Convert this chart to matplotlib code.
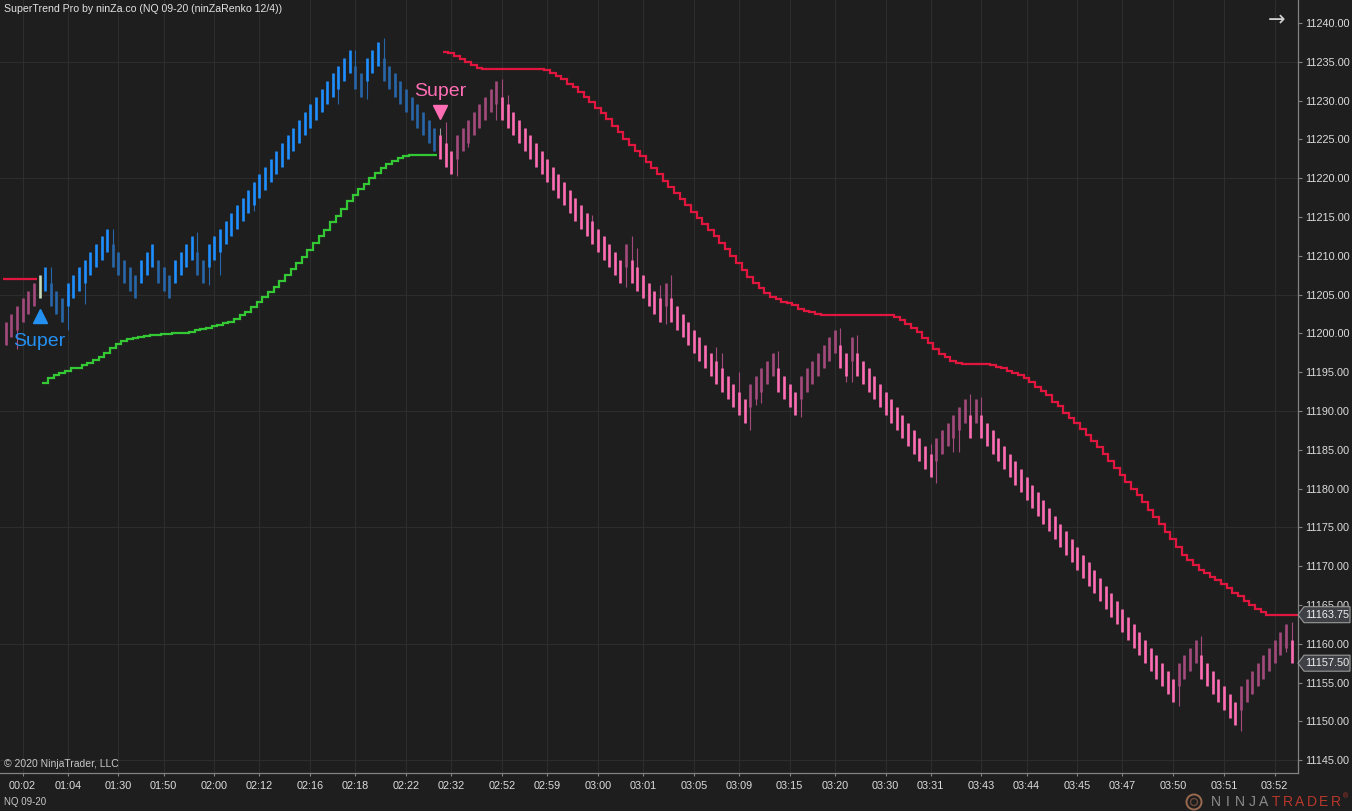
import matplotlib
matplotlib.use("Agg")
import matplotlib.pyplot as plt
import numpy as np
from matplotlib.patches import Polygon, Circle
from matplotlib.transforms import IdentityTransform, offset_copy

plt.rcParams["font.family"] = ["Liberation Sans", "DejaVu Sans"]

TITLE = "SuperTrend Pro by ninZa.co (NQ 09-20 (ninZaRenko 12/4))"

# renko bars (bar index = position on the x axis)
opens = [
    11198.5, 11199.5, 11200.5, 11201.5, 11202.5, 11203.5, 11204.5, 11205.5,
    11206.5, 11205.5, 11204.5,
    11203.5, 11204.5, 11205.5, 11206.5, 11207.5, 11208.5, 11209.5, 11210.5,
    11211.5, 11210.5, 11209.5, 11208.5, 11207.5,
    11206.5, 11207.5, 11208.5,
    11209.5, 11208.5, 11207.5,
    11206.5, 11207.5, 11208.5, 11209.5,
    11210.5, 11209.5,
    11208.5, 11209.5, 11210.5, 11211.5, 11212.5, 11213.5, 11214.5, 11215.5, 11216.5,
    11217.5, 11218.5, 11219.5, 11220.5, 11221.5, 11222.5, 11223.5, 11224.5, 11225.5,
    11226.5, 11227.5, 11228.5, 11229.5, 11230.5, 11231.5, 11232.5, 11233.5,
    11234.5, 11233.5,
    11232.5, 11233.5, 11234.5,
    11235.5, 11234.5, 11233.5, 11232.5, 11231.5, 11230.5, 11229.5, 11228.5, 11227.5,
    11226.5, 11225.5, 11224.5, 11223.5,
    11222.5, 11223.5, 11224.5, 11225.5, 11226.5, 11227.5, 11228.5, 11229.5,
    11230.5, 11229.5, 11228.5, 11227.5, 11226.5, 11225.5, 11224.5, 11223.5, 11222.5,
    11221.5, 11220.5, 11219.5, 11218.5, 11217.5, 11216.5, 11215.5, 11214.5, 11213.5,
    11212.5, 11211.5, 11210.5, 11209.5,
    11208.5,
    11209.5, 11208.5, 11207.5, 11206.5, 11205.5, 11204.5,
    11203.5,
    11204.5, 11203.5, 11202.5, 11201.5, 11200.5, 11199.5, 11198.5, 11197.5, 11196.5,
    11195.5, 11194.5, 11193.5, 11192.5, 11191.5,
    11190.5, 11191.5, 11192.5, 11193.5, 11194.5,
    11195.5, 11194.5, 11193.5, 11192.5,
    11191.5, 11192.5, 11193.5, 11194.5, 11195.5, 11196.5, 11197.5,
    11198.5, 11197.5,
    11196.5,
    11197.5, 11196.5, 11195.5, 11194.5, 11193.5, 11192.5, 11191.5, 11190.5, 11189.5,
    11188.5, 11187.5, 11186.5, 11185.5, 11184.5,
    11183.5, 11184.5, 11185.5, 11186.5, 11187.5, 11188.5,
    11189.5,
    11188.5,
    11189.5, 11188.5, 11187.5, 11186.5, 11185.5, 11184.5, 11183.5, 11182.5, 11181.5,
    11180.5, 11179.5, 11178.5, 11177.5, 11176.5, 11175.5, 11174.5, 11173.5, 11172.5,
    11171.5, 11170.5, 11169.5, 11168.5, 11167.5, 11166.5, 11165.5, 11164.5, 11163.5,
    11162.5, 11161.5, 11160.5, 11159.5, 11158.5, 11157.5, 11156.5, 11155.5,
    11154.5, 11155.5, 11156.5, 11157.5,
    11158.5, 11157.5, 11156.5, 11155.5, 11154.5, 11153.5, 11152.5,
    11151.5, 11152.5, 11153.5, 11154.5, 11155.5, 11156.5, 11157.5, 11158.5, 11159.5,
    11160.5,
]
closes = [
    11201.5, 11202.5, 11203.5, 11204.5, 11205.5, 11206.5, 11207.5, 11208.5,
    11203.5, 11202.5, 11201.5,
    11206.5, 11207.5, 11208.5, 11209.5, 11210.5, 11211.5, 11212.5, 11213.5,
    11208.5, 11207.5, 11206.5, 11205.5, 11204.5,
    11209.5, 11210.5, 11211.5,
    11206.5, 11205.5, 11204.5,
    11209.5, 11210.5, 11211.5, 11212.5,
    11207.5, 11206.5,
    11211.5, 11212.5, 11213.5, 11214.5, 11215.5, 11216.5, 11217.5, 11218.5, 11219.5,
    11220.5, 11221.5, 11222.5, 11223.5, 11224.5, 11225.5, 11226.5, 11227.5, 11228.5,
    11229.5, 11230.5, 11231.5, 11232.5, 11233.5, 11234.5, 11235.5, 11236.5,
    11231.5, 11230.5,
    11235.5, 11236.5, 11237.5,
    11232.5, 11231.5, 11230.5, 11229.5, 11228.5, 11227.5, 11226.5, 11225.5, 11224.5,
    11223.5, 11222.5, 11221.5, 11220.5,
    11225.5, 11226.5, 11227.5, 11228.5, 11229.5, 11230.5, 11231.5, 11232.5,
    11227.5, 11226.5, 11225.5, 11224.5, 11223.5, 11222.5, 11221.5, 11220.5, 11219.5,
    11218.5, 11217.5, 11216.5, 11215.5, 11214.5, 11213.5, 11212.5, 11211.5, 11210.5,
    11209.5, 11208.5, 11207.5, 11206.5,
    11211.5,
    11206.5, 11205.5, 11204.5, 11203.5, 11202.5, 11201.5,
    11206.5,
    11201.5, 11200.5, 11199.5, 11198.5, 11197.5, 11196.5, 11195.5, 11194.5, 11193.5,
    11192.5, 11191.5, 11190.5, 11189.5, 11188.5,
    11193.5, 11194.5, 11195.5, 11196.5, 11197.5,
    11192.5, 11191.5, 11190.5, 11189.5,
    11194.5, 11195.5, 11196.5, 11197.5, 11198.5, 11199.5, 11200.5,
    11195.5, 11194.5,
    11199.5,
    11194.5, 11193.5, 11192.5, 11191.5, 11190.5, 11189.5, 11188.5, 11187.5, 11186.5,
    11185.5, 11184.5, 11183.5, 11182.5, 11181.5,
    11186.5, 11187.5, 11188.5, 11189.5, 11190.5, 11191.5,
    11186.5,
    11191.5,
    11186.5, 11185.5, 11184.5, 11183.5, 11182.5, 11181.5, 11180.5, 11179.5, 11178.5,
    11177.5, 11176.5, 11175.5, 11174.5, 11173.5, 11172.5, 11171.5, 11170.5, 11169.5,
    11168.5, 11167.5, 11166.5, 11165.5, 11164.5, 11163.5, 11162.5, 11161.5, 11160.5,
    11159.5, 11158.5, 11157.5, 11156.5, 11155.5, 11154.5, 11153.5, 11152.5,
    11157.5, 11158.5, 11159.5, 11160.5,
    11155.5, 11154.5, 11153.5, 11152.5, 11151.5, 11150.5, 11149.5,
    11154.5, 11155.5, 11156.5, 11157.5, 11158.5, 11159.5, 11160.5, 11161.5, 11162.5,
    11157.5,
]

# wick extremes that reach past the body
wick_bars = [2, 8, 11, 14, 19, 34, 36, 38, 44, 59, 62, 64, 67, 77, 78, 80, 82, 87,
             88, 89, 104, 110, 111, 112, 116, 117, 118, 126, 127, 130, 132, 133,
             134, 137, 141, 148, 149, 150, 151, 164, 165, 168, 169, 171, 173, 208,
             212, 219, 227, 228]
wick_ends = [11198.0, 11208.5, 11200.5, 11203.75, 11213.5, 11213.0, 11206.25,
             11207.5, 11215.75, 11229.5, 11236.5, 11230.25, 11238.0, 11226.5,
             11227.25, 11220.25, 11224.0, 11227.5, 11232.75, 11230.75, 11215.25,
             11206.0, 11212.5, 11211.0, 11206.25, 11201.25, 11207.5, 11198.25,
             11197.5, 11195.0, 11187.5, 11190.75, 11191.0, 11197.75, 11189.25,
             11200.75, 11193.75, 11193.75, 11199.75, 11185.75, 11180.75, 11184.75,
             11184.75, 11192.25, 11191.75, 11152.0, 11161.0, 11148.75, 11159.0,
             11162.75]

signal_up_bar = 6
signal_dn_bar = 77

# SuperTrend stop line
st_red_pre = [11207.0, 11207.0, 11207.0, 11207.0, 11207.0, 11207.0]  # bars 0-5
st_green_first = 7
st_green = [
    11193.6, 11194.2, 11194.6, 11194.9, 11195.2, 11195.5, 11195.6, 11195.9, 11196.2,
    11196.6, 11197.0, 11197.5, 11198.1, 11198.6, 11199.0, 11199.3, 11199.45, 11199.55,
    11199.7, 11199.75, 11199.8, 11199.9, 11199.95, 11200.0, 11200.05, 11200.1, 11200.2,
    11200.4, 11200.6, 11200.7, 11200.9, 11201.1, 11201.3, 11201.5, 11201.8, 11202.4,
    11202.8, 11203.4, 11204.0, 11204.65, 11205.35, 11206.0, 11206.75, 11207.5, 11208.3,
    11209.1, 11209.9, 11210.75, 11211.6, 11212.5, 11213.3, 11214.3, 11215.1, 11216.0,
    11217.0, 11217.8, 11218.6, 11219.3, 11220.0, 11220.7, 11221.3, 11221.8, 11222.2,
    11222.6, 11222.9, 11223.0, 11223.0, 11223.0, 11223.0, 11223.0,
]
st_red_first = 78
st_red = [
    11236.3, 11236.1, 11235.7, 11235.3, 11235.0, 11234.6, 11234.2,
    11234.1, 11234.1, 11234.1, 11234.1, 11234.1, 11234.1, 11234.1, 11234.1, 11234.1,
    11234.1, 11234.1,
    11233.9, 11233.6, 11233.2, 11232.8, 11232.2, 11231.7, 11231.15,
    11230.5, 11229.8, 11229.1, 11228.4, 11227.6, 11226.7, 11225.9, 11225.1, 11224.3,
    11223.5, 11222.9, 11222.1,
    11221.3, 11220.5, 11219.7, 11218.9, 11218.1, 11217.3, 11216.5, 11215.7, 11214.9,
    11214.1, 11213.3, 11212.5, 11211.7, 11210.9, 11210.0, 11209.1, 11208.2, 11207.3,
    11206.5, 11205.8, 11205.2,
    11204.7, 11204.4, 11204.1, 11203.9, 11203.6, 11203.2, 11202.9, 11202.7, 11202.5,
    11202.4, 11202.4, 11202.4, 11202.4, 11202.4, 11202.4, 11202.4, 11202.4, 11202.4,
    11202.4, 11202.4, 11202.4, 11202.4,
    11202.1, 11201.7, 11201.2, 11200.7, 11200.2, 11199.4, 11198.7, 11198.0, 11197.35,
    11196.9, 11196.5, 11196.2, 11196.05, 11196.0, 11196.0, 11196.0, 11196.0, 11195.9,
    11195.7, 11195.5, 11195.2, 11194.9,
    11194.6, 11194.2, 11193.7, 11193.1, 11192.6, 11192.0, 11191.2, 11190.6, 11189.8,
    11189.1, 11188.4, 11187.7, 11186.9, 11186.1, 11185.3, 11184.4, 11183.6, 11182.7,
    11181.8, 11180.9, 11180.0, 11179.2, 11178.3, 11177.2, 11176.3, 11175.4, 11174.45,
    11173.5, 11172.5, 11171.5, 11170.8, 11170.15, 11169.5, 11169.1, 11168.65, 11168.2,
    11167.7, 11167.15, 11166.6, 11166.1, 11165.5, 11165.0, 11164.5, 11164.1, 11163.75,
    11163.75, 11163.75, 11163.75, 11163.75,
]

time_tick_bars = [3, 11, 20, 28, 37, 45, 54, 62, 71, 79, 88, 96, 105, 113, 122, 130,
                  139, 147, 156, 164, 173, 181, 190, 198, 207, 216, 225]
time_labels = ["00:02", "01:04", "01:30", "01:50", "02:00", "02:12", "02:16", "02:18",
               "02:22", "02:32", "02:52", "02:59", "03:00", "03:01", "03:05", "03:09",
               "03:15", "03:20", "03:30", "03:31", "03:43", "03:44", "03:45", "03:47",
               "03:50", "03:51", "03:52"]
price_ticks = list(range(11145, 11241, 5))
grid_prices = list(range(11145, 11241, 15))

BG = "#1e1e1e"
GRID = "#2d2d2d"
AXIS = "#828282"
TXT = "#dcdcdc"
UP_BRIGHT, UP_DARK = "#1e8fff", "#2866aa"
DN_BRIGHT, DN_DARK = "#ff6eb4", "#a34a7c"
SIG_BAR = "#c6dcbc"
ST_GREEN, ST_RED = "#34c934", "#e0163e"

W, H = 1352, 811
fig = plt.figure(figsize=(W / 100, H / 100), dpi=100, facecolor=BG)
ax = fig.add_axes([0, 38 / H, 1298 / W, 773 / H])
ax.set_facecolor(BG)
ax.set_xlim(-1.01, 229.13)
ax.set_ylim(11143.35, 11242.96)

for p in grid_prices:
    ax.axhline(p, color=GRID, lw=0.8, zorder=0)
for b in time_tick_bars:
    ax.axvline(b, color=GRID, lw=0.8, zorder=0)

opens_a = np.array(opens)
closes_a = np.array(closes)
idx = np.arange(len(closes))
body_cols, wick_cols = [], []
for i in idx:
    rising = closes_a[i] > opens_a[i]
    if signal_up_bar <= i < signal_dn_bar:
        body_cols.append(UP_BRIGHT if rising else UP_DARK)
        wick_cols.append(UP_DARK)
    else:
        body_cols.append(DN_DARK if rising else DN_BRIGHT)
        wick_cols.append(DN_DARK)
body_cols[signal_up_bar] = SIG_BAR
wick_cols[signal_dn_bar] = "#9a9a9a"

mids = (opens_a + closes_a) / 2
ax.vlines(wick_bars, mids[wick_bars], wick_ends,
          colors=[wick_cols[i] for i in wick_bars], lw=0.8, zorder=2)
ax.vlines(idx, opens_a, closes_a, colors=body_cols, lw=1.9, zorder=3)

# SuperTrend stop line as per-bar steps
ax.stairs(st_red_pre, np.arange(len(st_red_pre) + 1) - 0.5, baseline=None,
          color=ST_RED, lw=1.6, zorder=4)
ax.stairs(st_green, np.arange(len(st_green) + 1) + st_green_first - 0.5, baseline=None,
          color=ST_GREEN, lw=1.6, zorder=4)
red_edges = np.arange(len(st_red) + 1) + st_red_first - 0.5
red_edges[-1] = ax.get_xlim()[1]
ax.stairs(st_red, red_edges, baseline=None, color=ST_RED, lw=1.6, zorder=4)

# signal markers
up_low = min(opens[signal_up_bar], closes[signal_up_bar])
ax.plot([signal_up_bar], [up_low], marker="^", ms=10, color="#2390f2", ls="none",
        transform=offset_copy(ax.transData, fig=fig, y=-12.5, units="points"), zorder=5)
ax.annotate("Super", (signal_up_bar, up_low), xytext=(0, -34), textcoords="offset points",
            ha="center", va="baseline", fontsize=14, color="#2390f2", zorder=5)
dn_high = wick_ends[wick_bars.index(signal_dn_bar)]
ax.plot([signal_dn_bar], [dn_high], marker="v", ms=10, color=DN_BRIGHT, ls="none",
        transform=offset_copy(ax.transData, fig=fig, y=11.5, units="points"), zorder=5)
ax.annotate("Super", (signal_dn_bar, dn_high), xytext=(0, 23), textcoords="offset points",
            ha="center", va="baseline", fontsize=14, color=DN_BRIGHT, zorder=5)

# axes styling
for s in ("top", "left"):
    ax.spines[s].set_visible(False)
for s in ("bottom", "right"):
    ax.spines[s].set_color(AXIS)
    ax.spines[s].set_linewidth(0.9)
ax.yaxis.tick_right()
ax.set_yticks(price_ticks)
ax.set_yticklabels([f"{p:.2f}" for p in price_ticks])
ax.set_xticks(time_tick_bars)
ax.set_xticklabels(time_labels)
ax.tick_params(axis="y", length=3, width=0.8, color=AXIS, labelcolor=TXT,
               labelsize=7.8, pad=2)
ax.tick_params(axis="x", length=2.5, width=0.8, color=AXIS, labelcolor=TXT,
               labelsize=7.8, pad=3.5)

# price tags on the right axis
pix = IdentityTransform()
x_axis_px = ax.transAxes.transform((1, 0))[0]
for price, label in [(st_red[-1], f"{st_red[-1]:.2f}"), (closes[-1], f"{closes[-1]:.2f}")]:
    yp = ax.transData.transform((0, price))[1]
    verts = [(x_axis_px, yp), (x_axis_px + 6, yp + 8), (W - 2, yp + 8),
             (W - 2, yp - 8), (x_axis_px + 6, yp - 8)]
    tag = Polygon(verts, closed=True, facecolor="#3e4045", edgecolor="#9a9a9a",
                  lw=0.8, transform=pix, zorder=5)
    fig.add_artist(tag)
    fig.text(x_axis_px + 29, yp, label, transform=pix, ha="center", va="center",
             fontsize=7.8, color="#f0f0f0", zorder=6)

# chart furniture
fig.text(4, H - 9, TITLE, transform=pix, ha="left", va="center", fontsize=7.6,
         color="#e2e2e2")
fig.text(1277, H - 20, "\u2192", transform=pix, ha="center", va="center", fontsize=15,
         color="#d0d0d0", family="DejaVu Sans")
fig.text(4, H - 764, "\u00a9 2020 NinjaTrader, LLC", transform=pix, ha="left",
         va="center", fontsize=7.5, color="#c8c8c8")
fig.text(4, H - 802, "NQ 09-20", transform=pix, ha="left", va="center", fontsize=7,
         color="#c8c8c8")

logo = "NINJATRADER"
for k, ch in enumerate(logo):
    fig.text(1216 + k * 12.0, H - 802, ch, transform=pix, ha="center", va="center",
             fontsize=10, color="#8c8c8c" if k < 5 else "#b8372c")
fig.text(1343, H - 797, "\u00ae", transform=pix, ha="left", va="center", fontsize=5,
         color="#b8372c")
fig.add_artist(Circle((1194, H - 802), 7.5, transform=pix, fill=False,
                      edgecolor="#9a6a4e", lw=1.4))
fig.add_artist(Circle((1194, H - 802), 3.5, transform=pix, fill=False,
                      edgecolor="#6a4a3a", lw=1.0))

fig.savefig("out.png", dpi=100, facecolor=BG)
